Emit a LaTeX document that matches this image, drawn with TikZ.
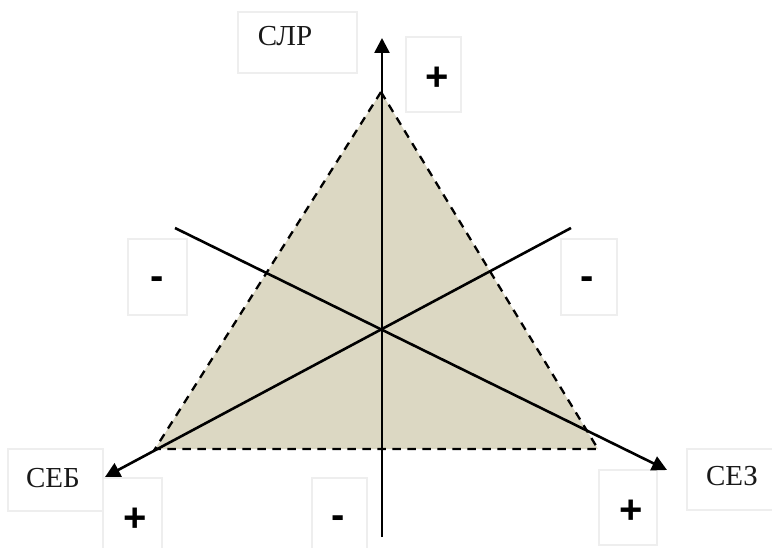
\documentclass[tikz,border=0pt]{standalone}
\usepackage{fontspec}
\setmainfont{Liberation Serif}
\newfontfamily\signfont{Liberation Sans}
\usetikzlibrary{arrows.meta}
\definecolor{trifill}{RGB}{220,216,195}
\definecolor{boxline}{RGB}{238,238,238}
\definecolor{txt}{RGB}{25,25,25}
\tikzset{
  axis/.style={line width=2.6pt,-{Triangle[length=15pt,width=15pt]}},
  triedge/.style={line width=2.3pt,dash pattern=on 8.3pt off 6.7pt},
  namebox/.style={draw=boxline,line width=1.2pt,inner sep=0pt},
  nametext/.style={font=\fontsize{29}{29}\selectfont,text=txt,inner sep=0pt},
  signtext/.style={font=\signfont\bfseries\fontsize{40}{40}\selectfont,text=black,inner sep=0pt}
}
\begin{document}
\begin{tikzpicture}[x=1pt,y=-1pt]
\useasboundingbox (0,0) rectangle (772,548);
\clip (0,0) rectangle (772,548);
% boxes
\node[namebox,minimum width=119pt,minimum height=61pt] (slrbox) at (297.5,42.5) {};
\node[nametext] (slr) at (285,36) {СЛР};
\node[namebox,minimum width=95pt,minimum height=62pt] (sebbox) at (55.5,480) {};
\node[nametext] (seb) at (53,478) {СЕБ};
\node[namebox,minimum width=90pt,minimum height=61pt] (sezbox) at (732,479.5) {};
\node[nametext] (sez) at (732,476) {СЕЗ};
\node[namebox,minimum width=55pt,minimum height=75pt] (ptopbox) at (433.5,74.5) {};
\node[signtext] (ptop) at (437,79) {+};
\node[namebox,minimum width=59pt,minimum height=84pt] (pleftbox) at (132.5,520) {};
\node[signtext] (pleft) at (135,520) {+};
\node[namebox,minimum width=58pt,minimum height=75pt] (prightbox) at (628,507.5) {};
\node[signtext] (pright) at (631,512) {+};
\node[namebox,minimum width=59pt,minimum height=76pt] (mleftbox) at (157.5,277) {};
\node[signtext] (mleft) at (157,283) {-};
\node[namebox,minimum width=56pt,minimum height=76pt] (mrightbox) at (589,277) {};
\node[signtext] (mright) at (587,283) {-};
\node[namebox,minimum width=55pt,minimum height=84pt] (mbotbox) at (339.5,520) {};
\node[signtext] (mbot) at (338,522) {-};
% triangle
\coordinate (A) at (381,92);
\coordinate (B) at (155,449);
\coordinate (C) at (598,449);
\fill[trifill] (A) -- (B) -- (C) -- cycle;
\draw[triedge] (A) -- (B) -- (C) -- cycle;
% axes
\coordinate (vbot) at (382,537);
\coordinate (vtop) at (382,38);
\coordinate (sebstart) at (571,228);
\coordinate (sebend) at (105,477);
\coordinate (sezstart) at (175,228);
\coordinate (sezend) at (667,470);
\draw[axis] (vbot) -- (vtop);
\draw[axis] (sebstart) -- (sebend);
\draw[axis] (sezstart) -- (sezend);
\end{tikzpicture}
\end{document}
